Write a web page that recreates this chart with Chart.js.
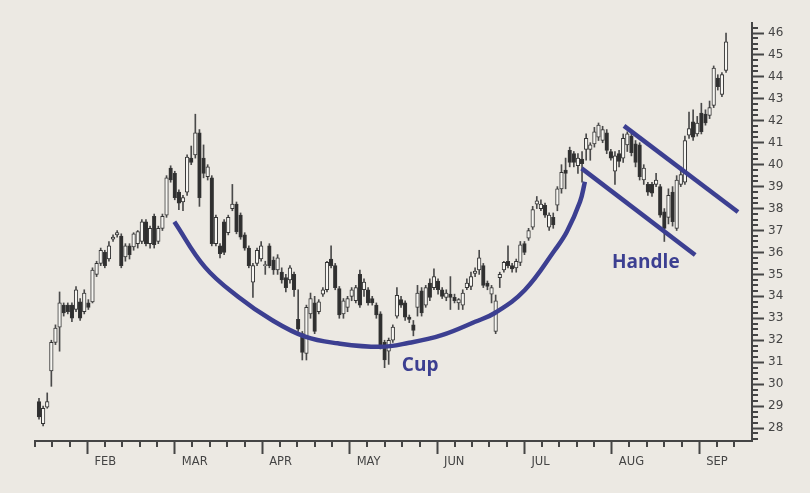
<!DOCTYPE html>
<html><head><meta charset="utf-8">
<script src="https://cdn.jsdelivr.net/npm/chart.js@4.4.1/dist/chart.umd.min.js"></script>
<style>html,body{margin:0;padding:0;background:#ece9e3;overflow:hidden}canvas{display:block}</style>
</head><body>
<canvas id="c" width="810" height="493"></canvas>
<script>
// ---- data ----
const opens = [29.2,28.2,28.95,30.6,31.9,32.6,33.6,33.6,33.6,33.4,
33.75,33.3,33.7,33.75,35.0,35.5,36.0,35.7,36.6,36.8,
36.75,35.8,36.3,36.25,36.4,36.5,37.4,36.4,37.65,36.5,
37.1,37.7,39.85,39.6,38.75,38.3,38.75,40.3,40.45,41.45,
40.3,39.45,39.4,36.4,36.3,37.4,36.9,38.0,38.2,37.7,
36.8,36.2,34.65,35.5,35.7,35.4,36.3,35.65,35.2,35.1,
34.85,34.75,35.0,32.95,32.3,31.4,33.2,33.7,33.3,34.1,
34.3,35.7,35.4,34.35,33.2,33.5,34.0,33.8,35.0,34.3,
34.3,33.9,33.6,33.2,31.9,31.5,32.0,33.1,33.85,33.7,
33.05,32.7,33.5,34.25,33.6,34.6,34.4,34.7,34.3,33.95,
34.1,33.95,33.7,33.6,34.4,34.45,35.05,35.2,35.4,34.6,
34.1,32.4,34.85,35.2,35.6,35.4,35.3,35.55,36.4,36.65,
37.15,38.2,38.0,38.15,37.15,37.6,38.15,38.9,39.75,40.65,
40.5,39.95,40.25,40.7,40.7,40.95,41.25,41.1,41.45,40.6,
39.7,40.5,40.3,40.9,41.3,40.95,40.9,39.3,39.1,39.1,
39.1,39.0,37.85,37.6,38.75,37.1,39.1,39.2,41.35,41.95,
41.4,42.35,42.3,42.25,42.7,43.95,43.2,44.3];
const highs = [29.35,29.0,29.6,32.0,32.7,34.2,33.7,33.7,33.7,34.45,
33.9,34.3,33.85,35.3,35.6,36.2,36.1,36.5,36.8,37.0,
36.85,36.4,36.4,36.9,37.0,37.5,37.5,37.2,37.75,37.2,
37.75,39.5,39.95,39.7,38.85,38.6,40.45,40.85,42.3,41.6,
40.9,40.0,39.5,37.7,36.4,37.5,37.7,39.1,38.3,37.8,
36.9,36.3,35.5,36.2,36.5,35.6,36.4,35.8,35.9,35.3,
35.0,35.4,35.1,34.3,32.4,33.6,34.15,34.0,33.85,34.4,
35.6,36.3,35.5,34.45,33.9,34.0,34.4,34.5,35.2,34.8,
34.4,34.0,33.7,33.3,32.0,32.1,32.7,34.4,34.0,33.8,
33.15,32.9,34.5,34.4,34.5,34.8,35.25,34.8,34.4,34.3,
34.9,34.1,33.9,34.3,34.8,35.1,35.3,36.1,35.5,34.7,
34.5,34.06,35.1,35.6,36.3,35.5,35.7,36.5,36.5,37.1,
38.1,38.55,38.4,38.25,37.8,37.8,39.0,40.0,40.3,40.8,
40.6,40.5,40.6,41.4,41.0,41.7,41.9,41.75,41.6,40.7,
40.6,40.65,41.4,41.5,41.5,41.1,41.0,40.0,39.2,39.2,
39.6,39.1,38.0,38.9,39.0,39.5,39.9,41.3,42.4,42.5,
42.2,42.8,42.5,42.9,44.5,44.1,44.2,46.0];
const lows = [28.4,28.1,28.9,29.9,31.8,31.5,33.1,33.2,32.85,33.3,
32.9,33.2,33.4,33.7,34.9,35.4,35.3,35.6,36.5,36.7,
35.3,35.6,35.7,36.1,36.2,36.4,36.3,36.2,36.2,36.4,
37.0,37.6,39.2,38.4,37.95,37.9,38.6,40.0,40.3,38.1,
39.4,39.3,36.3,36.3,35.75,35.9,36.8,37.9,36.85,36.6,
36.1,35.3,33.95,35.4,35.6,35.0,35.3,35.0,35.0,34.6,
34.2,34.6,34.0,32.4,31.1,31.1,33.0,32.3,33.2,34.0,
34.2,35.3,34.3,33.0,33.0,33.3,33.8,33.7,33.5,34.0,
33.6,33.6,33.0,31.6,30.75,30.9,31.9,33.0,33.5,32.9,
32.8,32.2,33.1,33.1,33.5,33.8,34.3,34.1,33.9,33.8,
33.4,33.7,33.4,33.4,34.3,34.3,34.9,35.0,34.4,34.3,
33.7,32.3,34.4,35.1,35.3,35.1,35.1,35.4,35.9,36.55,
37.05,38.0,37.9,37.6,37.0,37.1,37.9,38.7,38.9,39.9,
39.9,39.6,39.2,40.2,40.2,40.8,41.1,41.0,40.5,40.2,
39.1,39.9,40.1,40.6,40.4,39.9,39.3,39.1,38.6,38.55,
39.0,37.6,36.5,37.3,37.2,37.0,39.0,39.1,41.2,41.1,
41.3,41.4,41.8,42.1,42.6,43.4,43.1,44.2];
const closes = [28.5,28.9,29.2,31.9,32.55,33.7,33.25,33.3,33.0,34.3,
33.0,34.15,33.5,35.2,35.5,36.1,35.4,36.3,36.7,36.9,
35.4,36.3,35.9,36.85,36.95,37.4,36.4,37.1,36.35,37.1,
37.65,39.4,39.3,38.5,38.25,38.5,40.35,40.1,41.45,38.5,
39.6,39.9,36.4,37.6,35.95,36.0,37.6,38.2,36.95,36.7,
36.2,35.4,35.4,36.1,36.3,35.45,35.4,35.2,35.75,34.75,
34.4,35.3,34.3,32.5,31.45,33.5,33.9,32.4,33.75,34.3,
35.55,35.4,34.4,33.15,33.8,33.9,34.3,34.4,33.6,34.65,
33.7,33.7,33.15,31.75,31.1,32.0,32.6,34.05,33.6,33.05,
32.95,32.45,34.15,33.25,34.4,33.95,34.9,34.3,34.0,34.15,
33.95,33.8,33.85,34.15,34.6,34.9,35.15,35.75,34.5,34.45,
34.4,33.8,35.0,35.55,35.4,35.25,35.6,36.35,36.0,37.0,
37.95,38.35,38.2,37.7,37.7,37.25,38.9,39.65,39.6,40.1,
40.1,40.3,40.05,41.2,40.9,41.5,41.8,41.6,40.65,40.3,
40.4,40.15,41.2,41.4,40.55,40.1,39.45,39.85,38.75,38.7,
39.3,37.7,37.1,38.6,37.4,39.3,39.55,41.1,41.65,41.25,
41.9,41.5,41.9,42.6,44.4,43.55,44.1,45.6];

const monthLabels = ['FEB','MAR','APR','MAY','JUN','JUL','AUG','SEP'];
const priceTicks = [28,29,30,31,32,33,34,35,36,37,38,39,40,41,42,43,44,45,46];

// annotation shapes, in data units (trading-day index, price)
const cupX = [32.9,40.35,48.4,56.6,64.7,72.6,82.9,89.7,97.9,106.0,110.8,118.1,125.4,128.3,131.5,132.7];
const cupY = [37.40,35.33,33.98,32.92,32.16,31.86,31.70,31.87,32.23,32.84,33.24,34.29,36.11,36.94,38.31,39.22];
const handleLowX = [131.9,159.5], handleLowY = [39.83,35.88];
const handleHighX = [142.2,169.9], handleHighY = [41.77,37.84];
const annotationTexts = ['Cup','Handle'];
const annotationAt = [[88.2,30.62],[139.3,35.27]];

// ---- axis layout ----
const X_MIN = -0.972, X_MAX = 173.31, WEEK = 4.249;
const weekTicks = [];
for (let k = 0; k <= 40; k++) weekTicks.push(X_MIN + WEEK * k);
const monthWeek = [3,8,13,18,23,28,33,38];
const minorPrice = [];
for (let v = 27.5; v < 46.5; v += 0.25) if (Math.abs(v - Math.round(v)) > 0.01) minorPrice.push(v);

const ink = '#454545';
const blue = '#3c3f91';
const upFill = '#f7f6f2', downFill = '#2f2f2f';

const minorTicksPlugin = {
  id: 'minorTicks',
  afterDraw(chart) {
    const {ctx, chartArea: a} = chart;
    const x = chart.scales.x, y = chart.scales.y;
    ctx.save();
    ctx.strokeStyle = ink; ctx.lineWidth = 2;
    ctx.beginPath();
    weekTicks.forEach((v, k) => {
      if (monthWeek.includes(k)) return;
      const px = Math.round(x.getPixelForValue(v));
      ctx.moveTo(px, a.bottom); ctx.lineTo(px, a.bottom + 6);
    });
    minorPrice.forEach(v => {
      const py = Math.round(y.getPixelForValue(v));
      ctx.moveTo(a.right, py); ctx.lineTo(a.right + 6, py);
    });
    ctx.stroke();
    ctx.restore();
  }
};
const textPlugin = {
  id: 'annText',
  afterDatasetsDraw(chart) {
    const {ctx} = chart;
    const x = chart.scales.x, y = chart.scales.y;
    ctx.save();
    ctx.fillStyle = blue;
    ctx.font = 'bold 19px "Open Sans", "DejaVu Sans", sans-serif';
    ctx.textAlign = 'left'; ctx.textBaseline = 'alphabetic';
    annotationTexts.forEach((t, i) => {
      ctx.fillText(t, x.getPixelForValue(annotationAt[i][0]), y.getPixelForValue(annotationAt[i][1]));
    });
    ctx.restore();
  }
};
const bgPlugin = {
  id: 'bg',
  beforeDraw(chart) {
    const {ctx} = chart;
    ctx.save(); ctx.fillStyle = '#ece9e3'; ctx.fillRect(0, 0, chart.width, chart.height); ctx.restore();
  }
};

const pts = (xs, ys) => xs.map((v, i) => ({x: v, y: ys[i]}));

new Chart(document.getElementById('c'), {
  type: 'bar',
  data: {
    datasets: [
      {type: 'line', data: pts(cupX, cupY), borderColor: blue, borderWidth: 4.5, pointRadius: 0,
       tension: 0.4, fill: false, order: -2},
      {type: 'line', data: pts(handleLowX, handleLowY), borderColor: blue, borderWidth: 4.5, pointRadius: 0, fill: false, order: -2},
      {type: 'line', data: pts(handleHighX, handleHighY), borderColor: blue, borderWidth: 4.5, pointRadius: 0, fill: false, order: -2},
      {type: 'bar', data: opens.map((o, i) => ({x: i, y: [o, closes[i]]})),
       backgroundColor: c => (closes[c.dataIndex] >= opens[c.dataIndex] ? upFill : downFill),
       borderColor: '#353535', borderWidth: 1, borderSkipped: false, barThickness: 3.6, grouped: false, order: 0},
      {type: 'bar', data: lows.map((l, i) => ({x: i, y: [l, highs[i]]})),
       backgroundColor: '#4a4a4a', barThickness: 1, grouped: false, order: 1}
    ]
  },
  options: {
    responsive: false, animation: false, devicePixelRatio: 1,
    layout: {padding: {left: 35, top: 23, right: 0, bottom: 0}},
    plugins: {legend: {display: false}, tooltip: {enabled: false}},
    scales: {
      x: {
        type: 'linear', min: X_MIN, max: X_MAX, offset: false, position: 'bottom',
        afterBuildTicks: s => { s.ticks = monthWeek.map(k => ({value: weekTicks[k]})); },
        afterFit: s => { s.height = 52; },
        ticks: {callback: (v, i) => monthLabels[i], align: 'start', labelOffset: 7, padding: 1,
                autoSkip: false, maxRotation: 0, color: ink, font: {family: 'DejaVu Sans', size: 11.5}},
        grid: {offset: false, drawOnChartArea: false, tickLength: 13, tickWidth: 2, tickColor: ink},
        border: {display: true, color: ink, width: 2}
      },
      y: {
        type: 'linear', position: 'right', min: 27.408, max: 46.456,
        afterBuildTicks: s => { s.ticks = priceTicks.map(v => ({value: v})); },
        afterFit: s => { s.width = 58; },
        ticks: {callback: v => String(v), padding: 4, color: ink, font: {family: 'DejaVu Sans', size: 12}},
        grid: {offset: false, drawOnChartArea: false, tickLength: 12, tickWidth: 2, tickColor: ink},
        border: {display: true, color: ink, width: 2}
      }
    }
  },
  plugins: [bgPlugin, minorTicksPlugin, textPlugin]
});
</script>
</body></html>
